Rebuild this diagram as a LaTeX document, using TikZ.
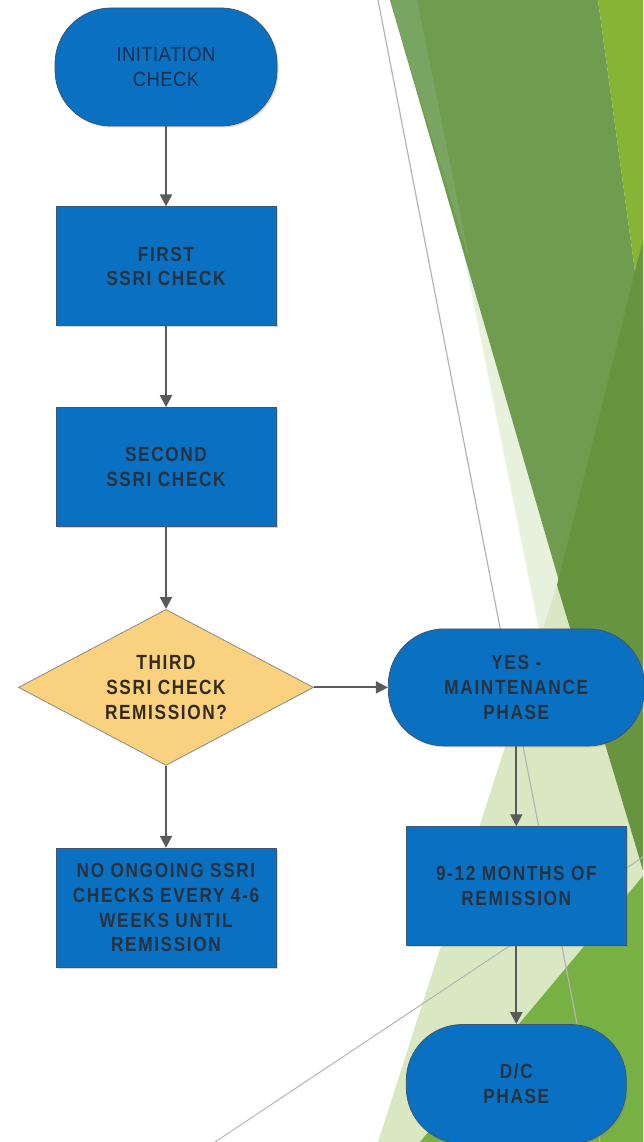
\documentclass[tikz,border=0pt]{standalone}
\usepackage{fontspec}
\newfontfamily\chartfont[FakeStretch=0.84,LetterSpace=8]{Liberation Sans}
\newfontfamily\startfont[FakeStretch=0.9,LetterSpace=2]{Liberation Sans}
\usetikzlibrary{arrows.meta}
\usetikzlibrary{shapes.geometric}
\usetikzlibrary{shadows}
\usetikzlibrary{positioning}

\definecolor{boxblue}{HTML}{0A70C2}
\definecolor{boxedge}{HTML}{3E5670}
\definecolor{boxtext}{HTML}{27323F}
\definecolor{starttext}{HTML}{182F50}
\definecolor{askfill}{HTML}{F9D17F}
\definecolor{askedge}{HTML}{8C8A80}
\definecolor{asktext}{HTML}{332B20}
\definecolor{flowgray}{HTML}{5A5A5A}
\definecolor{thingray}{HTML}{B4B4B4}
\definecolor{greenmid}{HTML}{709C4F}
\definecolor{greenband}{HTML}{79A562}
\definecolor{greentop}{HTML}{86B535}
\definecolor{greendark}{HTML}{67953F}
\definecolor{greenpale}{HTML}{E8F1DB}
\definecolor{greenlight}{HTML}{D9E8C2}
\definecolor{greenbright}{HTML}{77B144}

\tikzset{
  process/.style={rectangle, fill=boxblue, draw=boxedge, line width=0.8pt,
    minimum width=220pt, minimum height=119pt, inner sep=2pt, align=center,
    text=boxtext, font=\chartfont\bfseries\fontsize{20.5}{24.7}\selectfont,
    drop shadow={shadow xshift=1.5pt, shadow yshift=-1.5pt, opacity=0.3}},
  terminal/.style={process, rounded corners=56pt},
  decision/.style={diamond, aspect=1.89, minimum width=295pt, minimum height=156pt,
    inner sep=0pt, fill=askfill, draw=askedge, line width=0.8pt, align=center,
    text=asktext, font=\chartfont\bfseries\fontsize{20.5}{24.7}\selectfont},
  flow/.style={draw=flowgray, line width=2pt, -{Triangle[length=12pt,width=12pt]}},
}

\begin{document}
\begin{tikzpicture}[x=1pt, y=-1pt, node distance=80pt]
        \useasboundingbox (0,0) rectangle (643,1142);
        % slide background
        \fill[white] (0,0) rectangle (643,1142);
        \begin{scope}
        \clip (0,0) rectangle (643,1142);
        \fill[greenpale] (462,245) -- (570,620) -- (547,670) -- cycle;
        \fill[greenlight] (378,1142) -- (557,585) -- (643,870) -- (643,1142) -- cycle;
        \fill[greenmid] (390,0) -- (598,0) -- (643,330) -- (643,870) -- cycle;
        \fill[greenband] (390,0) -- (417,0) -- (470,262) -- cycle;
        \fill[greentop] (598,0) -- (643,0) -- (643,330) -- cycle;
        \fill[greendark] (643,240) -- (557,585) -- (643,870) -- cycle;
        \fill[greenbright] (420,1142) -- (643,876) -- (643,1142) -- cycle;
        \draw[thingray, line width=1.2pt] (378,0) -- (600,1142);
        \draw[thingray, line width=1pt] (215,1142) -- (643,857);
        \end{scope}

        % flow chart
        \node[terminal, font=\startfont\fontsize{20.5}{24.7}\selectfont, text=starttext,
          minimum width=222pt, minimum height=118pt] (init) at (166,67) {INITIATION\\CHECK};
        \node[process, below=80pt of init] (first) {FIRST\\SSRI CHECK};
        \node[process, below=81pt of first] (second) {SECOND\\SSRI CHECK};
        \node[decision, below=82pt of second] (third) {THIRD\\SSRI CHECK\\REMISSION?};
        \node[process, below=82pt of third] (ongoing) {NO ONGOING SSRI\\CHECKS EVERY 4-6\\WEEKS UNTIL\\REMISSION};
        \node[terminal, right=74pt of third, minimum width=256pt, minimum height=117pt] (maint) {YES -\\MAINTENANCE\\PHASE};
        \node[process, below=80pt of maint] (months) {9-12 MONTHS OF\\REMISSION};
        \node[terminal, below=78pt of months] (stop) {D/C\\PHASE};

        \draw[flow] (init) -- (first);
        \draw[flow] (first) -- (second);
        \draw[flow] (second) -- (third);
        \draw[flow] (third) -- (ongoing);
        \draw[flow] (third) -- (maint);
        \draw[flow] (maint) -- (months);
        \draw[flow] (months) -- (stop);
    \end{tikzpicture}
\end{document}
